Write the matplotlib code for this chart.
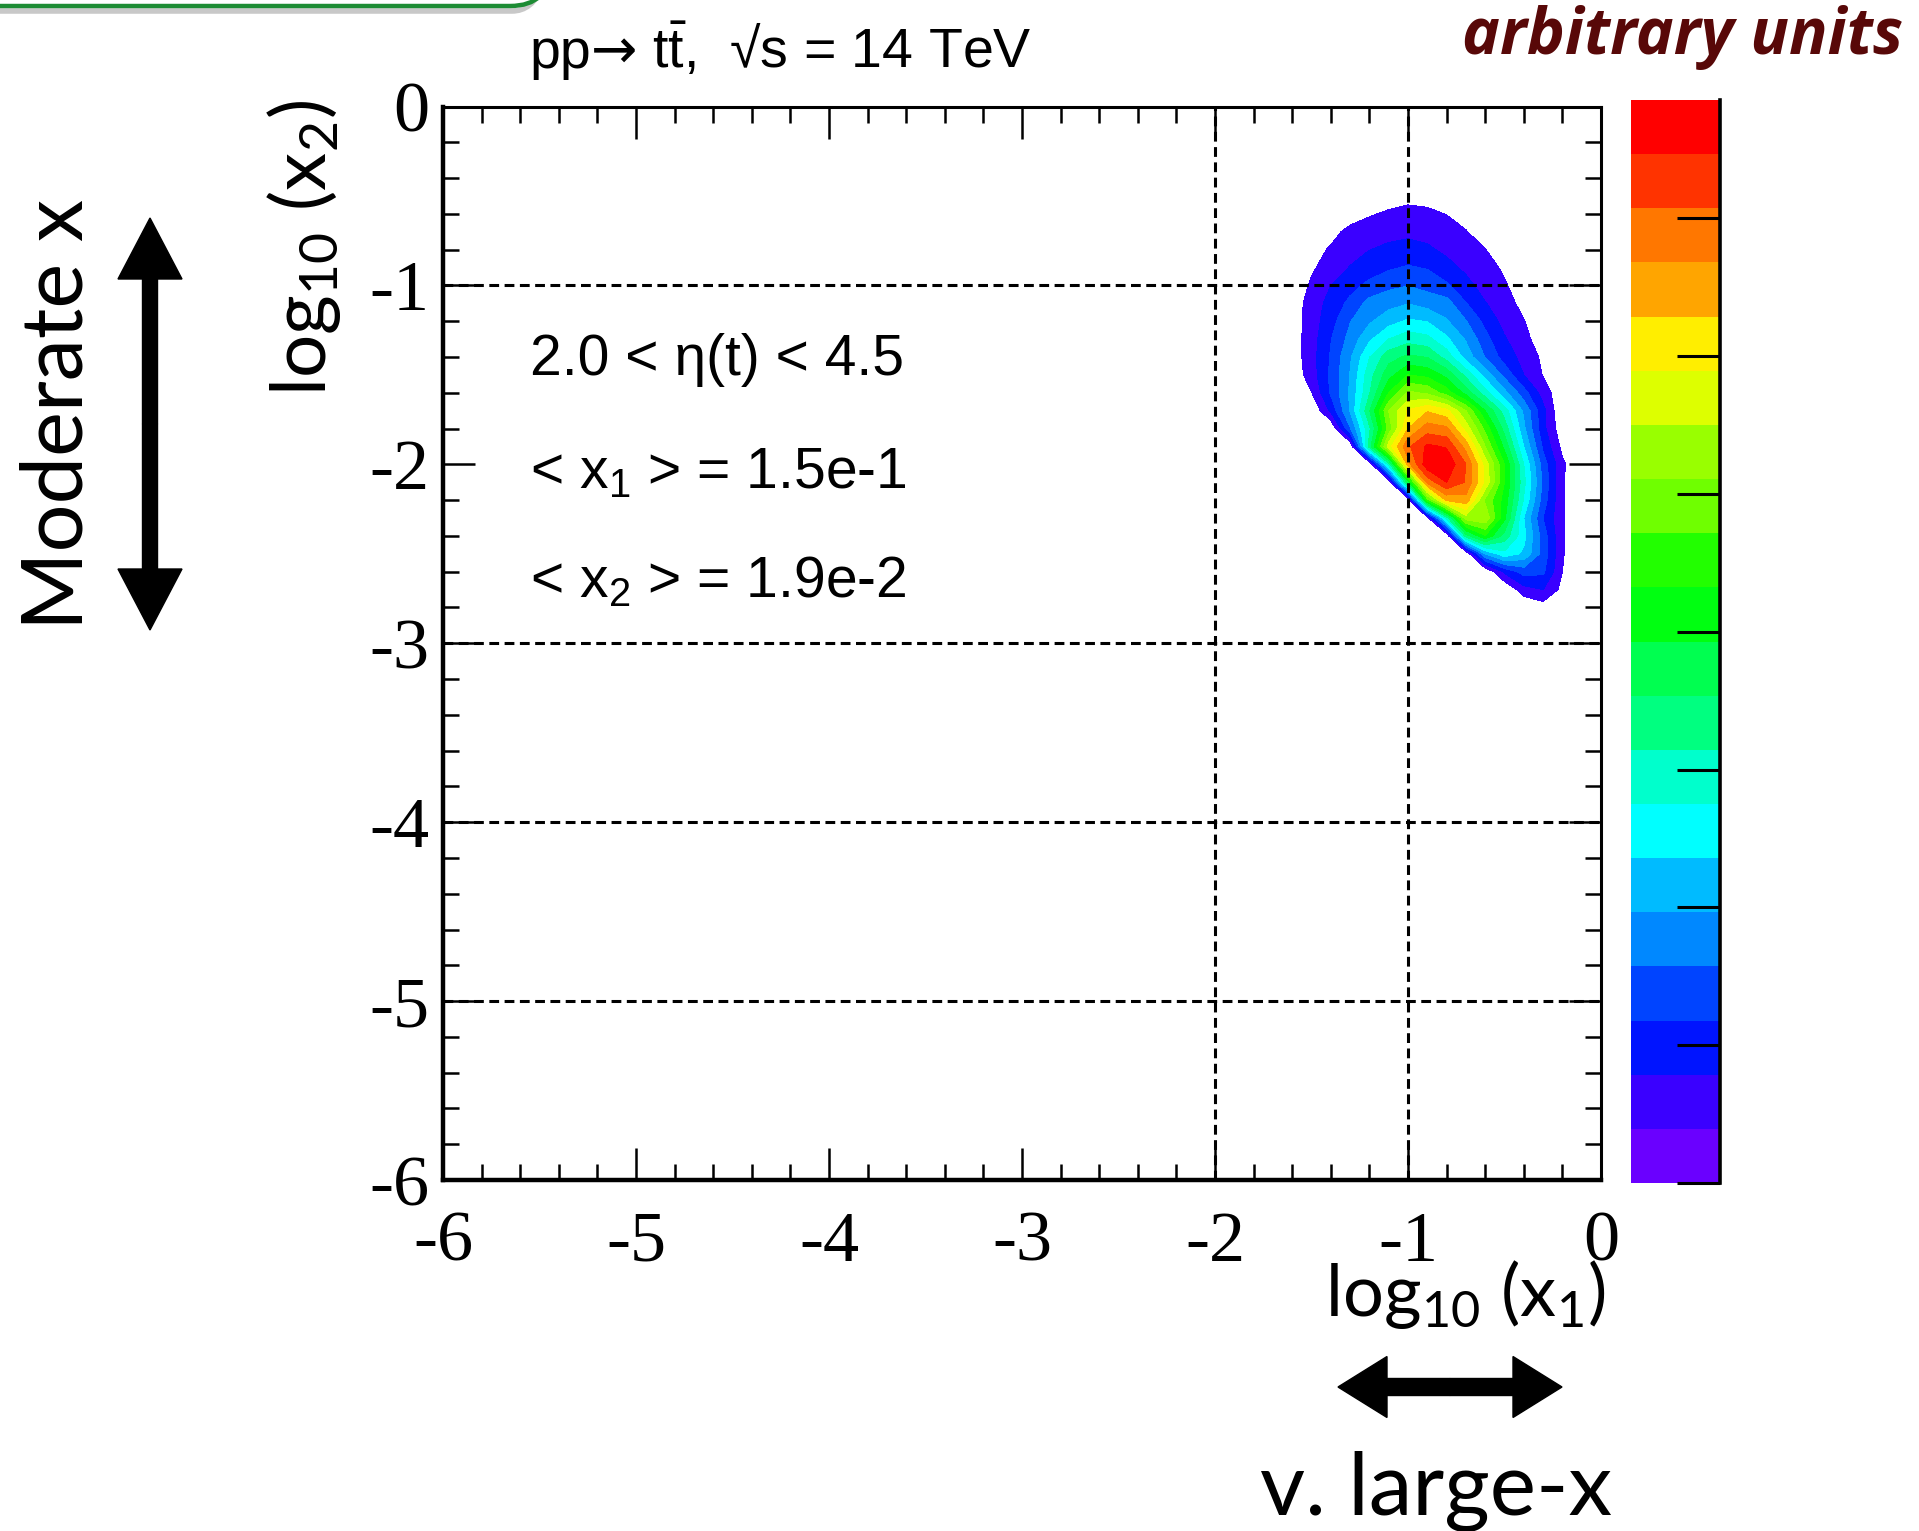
#!/usr/bin/env python3

import numpy as np
import matplotlib
matplotlib.use("Agg")
import matplotlib.pyplot as plt
from matplotlib.colors import ListedColormap, Normalize
from matplotlib.cm import ScalarMappable
from matplotlib.ticker import MultipleLocator
from matplotlib.patches import FancyArrow, FancyBboxPatch

# bin centres of the populated corner of the log10(x1) / log10(x2) map
log_x1 = [-1.7, -1.6, -1.5, -1.4, -1.3, -1.2, -1.1, -1.0, -0.9,
          -0.8, -0.7, -0.6, -0.5, -0.4, -0.3, -0.2, -0.1, 0.0]
log_x2 = [-0.4, -0.5, -0.6, -0.7, -0.8, -0.9, -1.0, -1.1, -1.2, -1.3,
          -1.4, -1.5, -1.6, -1.7, -1.8, -1.9, -2.0, -2.1, -2.2, -2.3,
          -2.4, -2.5, -2.6, -2.7, -2.8, -2.9]

# map contents in palette steps (20 steps = full colour scale), one row per log_x2
density = [
    [0, 0, 0, 0, 0, 0, 0, 0, 0, 0, 0, 0, 0, 0, 0, 0, 0, 0],
    [0, 0, 0, 0, 0, 0.2, 0.5, 0.7, 0.65, 0.4, 0.1, 0, 0, 0, 0, 0, 0, 0],
    [0, 0, 0, 0, 0.3, 0.9, 1.15, 1.3, 1.2, 0.97, 0.6, 0.2, 0, 0, 0, 0, 0, 0],
    [0, 0, 0, 0.55, 1.4, 1.5, 1.7, 1.78, 1.7, 1.45, 1.05, 0.5, 0.1, 0, 0, 0, 0, 0],
    [0, 0, 0.5, 1.15, 1.6, 1.98, 2.2, 2.34, 2.15, 1.8, 1.35, 1.02, 0.45, 0, 0, 0, 0, 0],
    [0, 0.1, 0.85, 1.45, 2.05, 2.5, 2.85, 3.1, 2.92, 2.3, 1.8, 1.35, 0.85, 0.3, 0, 0, 0, 0],
    [0, 0.3, 1.15, 2.0, 2.65, 3.25, 3.75, 3.97, 3.65, 3.15, 2.3, 1.6, 1.1, 0.5, 0, 0, 0, 0],
    [0, 0.4, 1.45, 2.35, 3.25, 4.35, 4.65, 4.95, 4.6, 4.4, 3.05, 2.05, 1.4, 0.7, 0.1, 0, 0, 0],
    [0, 0.45, 1.5, 2.6, 3.95, 4.85, 5.6, 6.15, 5.95, 5.1, 4.05, 2.7, 1.65, 1.05, 0.25, 0, 0, 0],
    [0, 0.45, 1.55, 2.95, 4.35, 5.8, 7.0, 7.6, 7.3, 6.2, 4.9, 3.35, 2.1, 1.3, 0.45, 0, 0, 0],
    [0, 0.4, 1.6, 3.1, 4.85, 6.95, 8.6, 9.2, 8.95, 7.6, 5.6, 3.95, 2.55, 1.65, 0.8, 0, 0, 0],
    [0, 0.3, 1.5, 3.2, 5.05, 7.6, 9.6, 11.0, 10.7, 9.7, 7.7, 5.6, 3.7, 2.0, 0.95, 0, 0, 0],
    [0, 0, 0.95, 3.15, 5.15, 7.9, 11.0, 13.2, 12.8, 11.5, 9.6, 7.4, 5.3, 3.4, 1.55, 0.2, 0, 0],
    [0, 0, 0, 2.2, 5.1, 8.9, 13.0, 15.1, 15.9, 15.3, 13.0, 10.0, 7.5, 4.8, 2.3, 0, 0, 0],
    [0, 0, 0, 0, 3.9, 7.8, 12.4, 16.0, 17.5, 17.2, 14.6, 11.7, 8.6, 5.2, 2.3, 0.3, 0, 0],
    [0, 0, 0, 0, 0, 8.5, 14.5, 17.8, 19.2, 18.9, 16.6, 13.0, 9.7, 6.0, 2.8, 0.7, 0, 0],
    [0, 0, 0, 0, 0, 0, 7.5, 16.6, 19.7, 19.8, 18.0, 14.6, 11.0, 7.0, 3.5, 1.2, 0, 0],
    [0, 0, 0, 0, 0, 0, 0, 9.5, 17.3, 19.0, 17.9, 14.8, 11.0, 7.3, 3.8, 1.1, 0, 0],
    [0, 0, 0, 0, 0, 0, 0, 0, 11.5, 16.2, 16.6, 12.8, 10.6, 6.9, 3.5, 1.1, 0, 0],
    [0, 0, 0, 0, 0, 0, 0, 0, 0.5, 7.5, 13.5, 13.8, 10.2, 6.0, 3.0, 1.1, 0, 0],
    [0, 0, 0, 0, 0, 0, 0, 0, 0, 0, 8.5, 10.9, 8.6, 6.3, 3.5, 1.1, 0, 0],
    [0, 0, 0, 0, 0, 0, 0, 0, 0, 0, 0, 5.0, 6.7, 5.8, 3.6, 1.1, 0, 0],
    [0, 0, 0, 0, 0, 0, 0, 0, 0, 0, 0, 0, 2.2, 3.4, 3.2, 1.0, 0, 0],
    [0, 0, 0, 0, 0, 0, 0, 0, 0, 0, 0, 0, 0, 1.6, 2.0, 0.7, 0, 0],
    [0, 0, 0, 0, 0, 0, 0, 0, 0, 0, 0, 0, 0, 0, 0.5, 0.2, 0, 0],
    [0, 0, 0, 0, 0, 0, 0, 0, 0, 0, 0, 0, 0, 0, 0, 0, 0, 0],
]

# ROOT-like 20 step palette, bottom to top
palette = ['#6a00ff', '#3a00ff', '#0014ff', '#0044ff', '#0088ff',
           '#00bbff', '#00ffff', '#00ffcc', '#00ff80', '#00ff50',
           '#00ff11', '#22ff00', '#6fff00', '#99ff00', '#ddff00',
           '#ffee00', '#ffa500', '#ff7700', '#ff3300', '#ff0000']
au_max = 7.86                       # colour scale top, arbitrary units
au_ticks = [0, 1, 2, 3, 4, 5, 6, 7]

axis_ticks = [-6, -5, -4, -3, -2, -1, 0]
guide_x = [-2, -1]
guide_y = [-1, -3, -4, -5]
notes = ['2.0 < \u03b7(t) < 4.5',
         r'< x$_\mathregular{1}$ > = 1.5e-1',
         r'< x$_\mathregular{2}$ > = 1.9e-2']
notes_y = [-1.50, -2.13, -2.74]

plt.rcParams['mathtext.fontset'] = 'custom'
plt.rcParams['mathtext.rm'] = 'Liberation Sans'
plt.rcParams['mathtext.it'] = 'Liberation Sans:italic'

W, H = 1919, 1531
fig = plt.figure(figsize=(W / 100, H / 100), dpi=100)


def box(x0, y0, x1, y1):
    # pixel box (top-left origin) -> figure fraction rect
    return [x0 / W, 1 - y1 / H, (x1 - x0) / W, (y1 - y0) / H]


ax = fig.add_axes(box(443, 106.5, 1601, 1180))
Z = np.array(density)
nsteps = len(palette)
ax.contourf(log_x1, log_x2, Z, levels=np.arange(1, nsteps + 1),
            colors=palette[1:], zorder=1)

dash = dict(color='black', lw=2.2, linestyle=(0, (3.2, 1.8)), zorder=3)
for gx in guide_x:
    ax.axvline(gx, **dash)
for gy in guide_y:
    ax.axhline(gy, **dash)

ax.set_xlim(-6, 0)
ax.set_ylim(-6, 0)
ax.set_xticks(axis_ticks)
ax.set_yticks(axis_ticks)
ax.set_xticklabels([str(t) for t in axis_ticks])
ax.set_yticklabels([str(t) for t in axis_ticks])
ax.xaxis.set_minor_locator(MultipleLocator(0.2))
ax.yaxis.set_minor_locator(MultipleLocator(0.2))
ax.tick_params(which='both', direction='in', top=True, right=True,
               width=1.8, color='black')
ax.tick_params(which='major', length=23)
ax.tick_params(which='minor', length=11.5)
ax.tick_params(axis='x', which='major', pad=22, labelsize=52)
ax.tick_params(axis='y', which='major', pad=10, labelsize=52)
for lab in ax.get_xticklabels() + ax.get_yticklabels():
    lab.set_family('Liberation Serif')
for side in ['left', 'bottom']:
    ax.spines[side].set_linewidth(3.2)
for side in ['top', 'right']:
    ax.spines[side].set_linewidth(2.2)

for txt, ty in zip(notes, notes_y):
    ax.text(-5.55, ty, txt, fontsize=41, family=['Liberation Sans', 'DejaVu Sans'],
            ha='left', va='baseline', zorder=4)

# colour scale
cax = fig.add_axes(box(1631, 100, 1720, 1183))
sm = ScalarMappable(norm=Normalize(0, nsteps), cmap=ListedColormap(palette))
cb = fig.colorbar(sm, cax=cax)
cb.outline.set_visible(False)
cb.set_ticks([t * nsteps / au_max for t in au_ticks])
cax.minorticks_off()
cax.tick_params(axis='y', which='major', direction='in', left=False,
                right=True, labelright=False, labelleft=False,
                length=31, width=2.2)
cax.axvline(1, color='black', lw=2.6, clip_on=False)

# decorations in pixel space
deco = fig.add_axes([0, 0, 1, 1], zorder=5)
deco.set_xlim(0, W)
deco.set_ylim(H, 0)
deco.axis('off')
deco.patch.set_alpha(0)

deco.add_patch(FancyBboxPatch((-40, -125), 592, 136,
                              boxstyle='round,pad=0,rounding_size=40',
                              ec='#c8c8c8', fc='none', lw=4))
deco.add_patch(FancyBboxPatch((-40, -130), 590, 136,
                              boxstyle='round,pad=0,rounding_size=40',
                              ec='#1d8c34', fc='white', lw=3.2))

# title built from pieces so the arrow can come from DejaVu Sans
t_pp = deco.text(529, 68, 'pp', fontsize=40, family='Liberation Sans',
                 ha='left', va='baseline')
t_arr = deco.annotate('\u2192', xy=(1, 68), xycoords=(t_pp, 'data'),
                      fontsize=40, family='DejaVu Sans', ha='left', va='baseline')
deco.annotate(' t$\\bar{\\mathrm{t}}$,  \u221as = 14 TeV', xy=(1, 68),
              xycoords=(t_arr, 'data'), fontsize=40,
              family=['Liberation Sans', 'DejaVu Sans'], ha='left', va='baseline')

deco.text(1903, 54, 'arbitrary units', fontsize=46, color='#580808',
          family=['Open Sans', 'Lato', 'DejaVu Sans'], weight='bold',
          style='italic', ha='right', va='baseline')

deco.text(304, 248, r'log$_\mathregular{10}$ (x$_\mathregular{2}$)', fontsize=55,
          family=['Lato', 'DejaVu Sans'], rotation=90, ha='center', va='center')
deco.text(1606, 1316, r'log$_\mathregular{10}$ (x$_\mathregular{1}$)', fontsize=52,
          family=['Lato', 'DejaVu Sans'], ha='right', va='baseline')
deco.text(59, 414, 'Moderate x', fontsize=61, family=['Lato', 'DejaVu Sans'],
          rotation=90, ha='center', va='center')
deco.text(1436, 1515, 'v. large-x', fontsize=63, family=['Lato', 'DejaVu Sans'],
          ha='center', va='baseline')

# double-headed arrows
for d in (-1, 1):
    deco.add_patch(FancyArrow(150, 424, 0, d * 206, width=15, head_width=64,
                              head_length=61, length_includes_head=True,
                              color='black'))
    deco.add_patch(FancyArrow(1450, 1387, d * 112, 0, width=17, head_width=61,
                              head_length=49, length_includes_head=True,
                              color='black'))

fig.savefig('out.png', dpi=100)
